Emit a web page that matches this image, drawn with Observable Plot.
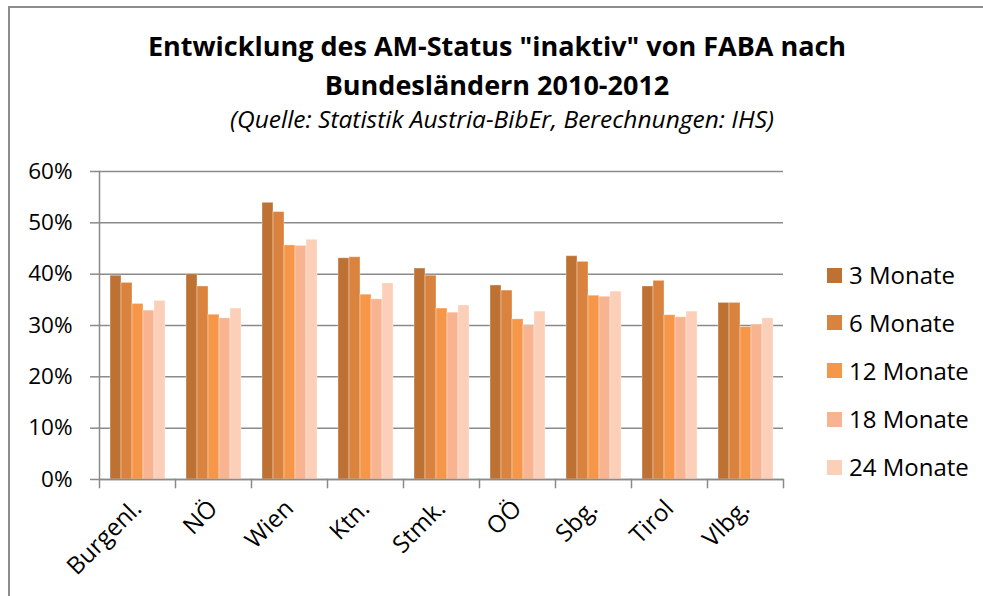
<!DOCTYPE html>
<html><head><meta charset="utf-8">
<script src="https://cdn.jsdelivr.net/npm/d3@7"></script>
<script src="https://cdn.jsdelivr.net/npm/@observablehq/plot@0.6"></script>
<style>
body{margin:0;background:#fff;font-family:"Open Sans",sans-serif;color:#000}
#wrap{position:relative;width:983px;height:596px;overflow:hidden;background:#fff}
#border{position:absolute;left:8px;top:6px;width:1000px;height:700px;border-left:2px solid #8c8c8c;border-top:2px solid #8c8c8c}
#title{position:absolute;top:26px;left:0;width:994px;text-align:center;font-weight:bold;font-size:27px;line-height:39px}
#subtitle{position:absolute;top:104px;left:0;width:1004px;text-align:center;font-style:italic;font-size:24.5px;line-height:30px}
#chart{position:absolute;left:0;top:150px}
#legend{position:absolute;left:827px;top:0}
.row{position:absolute;left:0;height:48px;display:flex;align-items:center;white-space:nowrap;font-size:24px;line-height:1}
.sw{width:15px;height:15px;margin-right:7px}
</style>
</head><body>
<div id="wrap">
  <div id="border"></div>
  <div id="title">Entwicklung des AM-Status "inaktiv" von FABA nach<br>Bundesländern 2010-2012</div>
  <div id="subtitle">(Quelle: Statistik Austria-BibEr, Berechnungen: IHS)</div>
  <div id="chart"></div>
  <div id="legend"></div>
</div>
<script>
const categories = ["Burgenl.","NÖ","Wien","Ktn.","Stmk.","OÖ","Sbg.","Tirol","Vlbg."];
const seriesNames = ["3 Monate","6 Monate","12 Monate","18 Monate","24 Monate"];
const m3  = [39.7,40.0,53.9,43.1,41.1,37.8,43.5,37.6,34.4];
const m6  = [38.3,37.6,52.1,43.3,39.7,36.8,42.4,38.7,34.4];
const m12 = [34.2,32.1,45.6,36.0,33.3,31.2,35.8,32.0,29.7];
const m18 = [32.9,31.4,45.5,35.1,32.5,29.9,35.6,31.6,30.2];
const m24 = [34.8,33.3,46.7,38.2,33.9,32.7,36.6,32.7,31.4];
const yTicks = [0,10,20,30,40,50,60];
const colors = ["#bd7234","#da833e","#f69648","#f8b490","#fbcfb8"];

const seriesValues = [m3, m6, m12, m18, m24];
const data = [];
categories.forEach((c, i) => seriesNames.forEach((s, j) => data.push({category: c, series: s, value: seriesValues[j][i]})));

const H = 446, MT = 21, MB = 117;
const plotH = H - MT - MB;
const grid = "#8a8a8a";

const chart = Plot.plot({
  width: 983, height: H,
  marginTop: MT, marginBottom: MB, marginLeft: 97, marginRight: 198,
  style: {fontFamily: "Open Sans", fontSize: "22px", color: "#000", background: "transparent", overflow: "visible"},
  fx: {domain: categories, paddingInner: 0, paddingOuter: 0, label: null},
  x: {domain: seriesNames, paddingInner: 0, paddingOuter: 0.765, axis: null},
  y: {domain: [0, 60], label: null},
  color: {domain: seriesNames, range: colors},
  marks: [
    Plot.ruleY(yTicks, {stroke: grid, strokeWidth: 1.5}),
    Plot.barY(data, {fx: "category", x: "series", y: "value", fill: "series", stroke: "#fff", strokeOpacity: 0.35, strokeWidth: 1}),
    Plot.ruleY([0], {stroke: grid, strokeWidth: 1.5}),
    Plot.axisY({ticks: yTicks, tickFormat: d => d + "%", tickSize: 9, tickPadding: 18, fontSize: 22.5, stroke: grid, strokeWidth: 1.5, fill: "#000", label: null}),
    Plot.frame({anchor: "left", facetAnchor: "left", stroke: grid, strokeWidth: 1.5}),
    Plot.frame({anchor: "left", insetTop: plotH, insetBottom: -8, stroke: grid, strokeWidth: 1.5}),
    Plot.frame({anchor: "right", facetAnchor: "right", insetTop: plotH, insetBottom: -8, stroke: grid, strokeWidth: 1.5}),
    Plot.axisFx({anchor: "bottom", tickSize: 0, tickRotate: -45, tickPadding: 25, fontSize: 24, fill: "#000", label: null, dx: 0})
  ]
});
document.getElementById("chart").appendChild(chart);

const legend = document.getElementById("legend");
const rowCenters = [275, 322.5, 370.5, 419, 467];
seriesNames.forEach((s, j) => {
  const row = document.createElement("div");
  row.className = "row";
  row.style.top = (rowCenters[j] - 24) + "px";
  const sw = document.createElement("div");
  sw.className = "sw";
  sw.style.background = colors[j];
  const t = document.createElement("span");
  t.textContent = s;
  row.appendChild(sw); row.appendChild(t);
  legend.appendChild(row);
});
</script>
</body></html>
